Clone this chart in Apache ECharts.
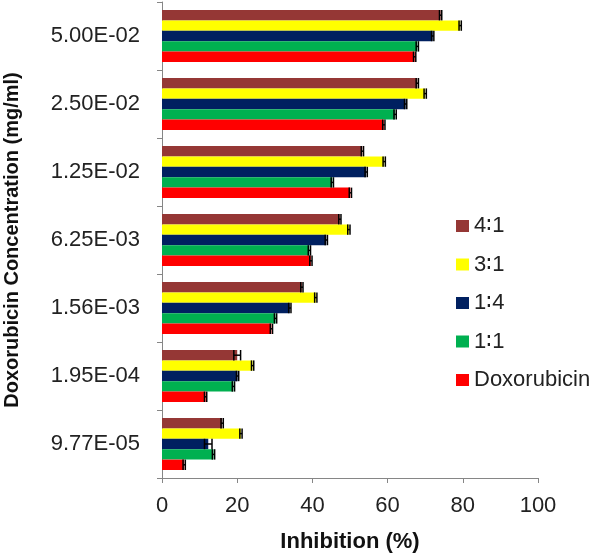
<!DOCTYPE html>
<html>
<head>
<meta charset="utf-8">
<script src="https://cdn.jsdelivr.net/npm/echarts@6/dist/echarts.min.js"></script>
<style>
  html, body { margin: 0; padding: 0; background: #fff; }
  #chart { width: 600px; height: 556px; }
</style>
</head>
<body>
<div id="chart"></div>
<script>
// concentrations, top to bottom as drawn
const concentrations = ["5.00E-02", "2.50E-02", "1.25E-02", "6.25E-03", "1.56E-03", "1.95E-04", "9.77E-05"];
const seriesNames = ["4∶1", "3∶1", "1∶4", "1∶1", "Doxorubicin"];
const seriesColors = ["#953735", "#FFFF00", "#002060", "#00B050", "#FF0000"];

// inhibition (%)
const ratio41 = [74.1, 67.9, 53.3, 47.3, 37.2, 20.0, 16.0];
const ratio31 = [79.3, 70.0, 59.1, 49.7, 40.9, 24.1, 21.0];
const ratio14 = [72.0, 64.8, 54.3, 43.7, 34.0, 20.1, 12.3];
const ratio11 = [67.9, 62.0, 45.3, 39.2, 30.2, 19.0, 13.7];
const doxorubicin = [67.2, 59.0, 50.1, 39.6, 29.1, 11.6, 5.9];

// error bar half-widths (small, mostly hidden behind the bar end)
const err41 = [0.3, 0.3, 0.3, 0.3, 0.3, 0.9, 0.3];
const err31 = [0.3, 0.3, 0.3, 0.3, 0.3, 0.3, 0.3];
const err14 = [0.3, 0.3, 0.3, 0.3, 0.3, 0.3, 1.0];
const err11 = [0.3, 0.3, 0.3, 0.3, 0.3, 0.3, 0.3];
const errDox = [0.3, 0.3, 0.3, 0.3, 0.3, 0.3, 0.3];

const allValues = [ratio41, ratio31, ratio14, ratio11, doxorubicin];
const allErrors = [err41, err31, err14, err11, errDox];

const catGap = 0.235;
const myChart = echarts.init(document.getElementById("chart"));

const barSeries = seriesNames.map((name, k) => ({
  name: name,
  type: "bar",
  data: allValues[k],
  barGap: "0%",
  barCategoryGap: catGap * 100 + "%",
  itemStyle: { color: seriesColors[k] },
  z: 2,
}));

const errData = [];
allValues.forEach((vals, k) => {
  vals.forEach((v, i) => errData.push([v, i, allErrors[k][i], k]));
});

const errSeries = {
  name: "error",
  type: "custom",
  data: errData,
  encode: { x: 0, y: 1 },
  z: 3,
  silent: true,
  renderItem: (params, api) => {
    const v = api.value(0);
    const idx = api.value(1);
    const e = api.value(2);
    const k = api.value(3);
    const center = api.coord([0, idx]);
    const bandH = api.size([0, 1])[1];
    const total = bandH * (1 - catGap);
    const bw = total / seriesNames.length;
    const yc = center[1] - total / 2 + bw * (k + 0.5);
    const x1 = api.coord([v - e, idx])[0];
    const x2 = api.coord([v + e, idx])[0];
    const half = bw / 2;
    const style = { stroke: "#000", lineWidth: 1.5 };
    return {
      type: "group",
      children: [
        { type: "line", shape: { x1: x1, y1: yc, x2: x2, y2: yc }, style: style },
        { type: "line", shape: { x1: x1, y1: yc - half, x2: x1, y2: yc + half }, style: style },
        { type: "line", shape: { x1: x2, y1: yc - half, x2: x2, y2: yc + half }, style: style },
      ],
    };
  },
};

const option = {
  animation: false,
  textStyle: { fontFamily: "Liberation Sans, Arial, sans-serif" },
  grid: { left: 162, right: 62, top: 2, bottom: 78, outerBoundsMode: "none", containLabel: false },
  legend: {
    orient: "vertical",
    left: 451,
    top: 210,
    data: seriesNames,
    itemWidth: 13,
    itemHeight: 12,
    itemGap: 16.5,
    icon: "rect",
    textStyle: { fontSize: 22, color: "#222", lineHeight: 22, padding: [0, 0, 0, 0] },
  },
  xAxis: {
    type: "value",
    min: 0,
    max: 100,
    interval: 20,
    name: "Inhibition (%)",
    nameLocation: "middle",
    nameGap: 53,
    nameTextStyle: { fontSize: 22, fontWeight: "bold", color: "#111" },
    axisLine: { show: true, lineStyle: { color: "#868686", width: 1 } },
    axisTick: { show: true, length: 5, lineStyle: { color: "#868686" } },
    axisLabel: { fontSize: 22, color: "#222", margin: 17 },
    splitLine: { show: false },
  },
  yAxis: {
    type: "category",
    inverse: true,
    data: concentrations,
    name: "Doxorubicin Concentration (mg/ml)",
    nameLocation: "middle",
    nameGap: 140,
    nameTextStyle: { fontSize: 20, fontWeight: "bold", color: "#111" },
    axisLine: { show: true, lineStyle: { color: "#868686", width: 1 } },
    axisTick: { show: true, length: 5, alignWithLabel: false, lineStyle: { color: "#868686" } },
    axisLabel: { fontSize: 22, color: "#222", margin: 22 },
  },
  series: [...barSeries, errSeries],
};

myChart.setOption(option);
</script>
</body>
</html>
